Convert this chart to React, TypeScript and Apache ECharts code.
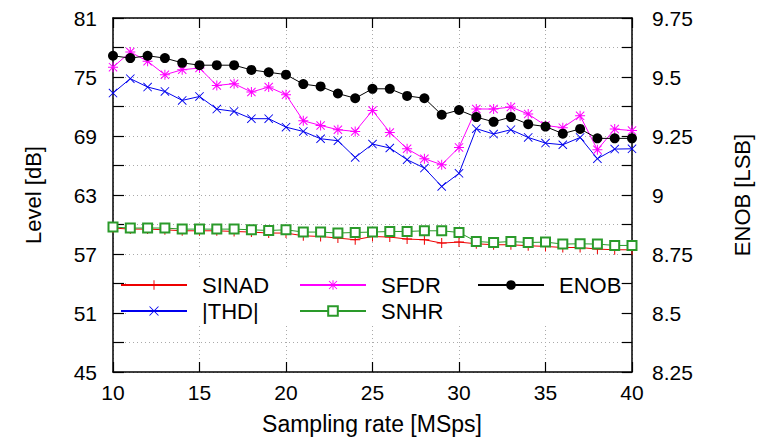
import React, { useEffect, useRef } from "react";
import * as echarts from "echarts";

const samplingRates = [10, 11, 12, 13, 14, 15, 16, 17, 18, 19, 20, 21, 22, 23, 24, 25, 26, 27, 28, 29, 30, 31, 32, 33, 34, 35, 36, 37, 38, 39, 40];

const sinad = [59.64, 59.53, 59.53, 59.46, 59.36, 59.36, 59.36, 59.29, 59.23, 59.13, 59.13, 58.85, 58.78, 58.62, 58.45, 58.78, 58.72, 58.52, 58.45, 58.11, 58.21, 58.04, 57.94, 57.94, 57.84, 57.77, 57.66, 57.66, 57.5, 57.43, 57.43];
const thd = [73.37, 74.83, 73.98, 73.53, 72.62, 73.02, 71.74, 71.5, 70.76, 70.76, 69.9, 69.46, 68.72, 68.52, 66.82, 68.18, 67.78, 66.59, 65.74, 63.87, 65.2, 69.75, 69.2, 69.64, 68.85, 68.28, 68.11, 68.85, 66.69, 67.67, 67.7];
const sfdr = [76.0, 77.54, 76.6, 75.23, 75.74, 75.91, 74.14, 74.32, 73.47, 73.98, 73.2, 70.55, 70.07, 69.64, 69.46, 71.6, 69.36, 67.7, 66.69, 66.08, 67.84, 71.75, 71.74, 71.95, 71.23, 70.07, 69.85, 71.05, 67.6, 69.7, 69.55];
const snhr = [59.74, 59.64, 59.64, 59.64, 59.53, 59.53, 59.53, 59.53, 59.46, 59.39, 59.46, 59.23, 59.23, 59.13, 59.19, 59.23, 59.29, 59.29, 59.36, 59.36, 59.19, 58.27, 58.17, 58.27, 58.17, 58.21, 58.01, 58.04, 58.01, 57.87, 57.87];
const enob = [9.59, 9.58, 9.59, 9.58, 9.56, 9.55, 9.55, 9.55, 9.53, 9.52, 9.51, 9.47, 9.46, 9.43, 9.41, 9.45, 9.45, 9.42, 9.41, 9.34, 9.36, 9.33, 9.31, 9.33, 9.3, 9.29, 9.26, 9.28, 9.24, 9.24, 9.24];

const leftMin = 45;
const leftMax = 81;
const rightMin = 8.25;
const rightMax = 9.75;

const FONT = "Liberation Sans";

const PLUS = "path://M0,4.5H10V5.5H0Z M4.5,0H5.5V10H4.5Z";
const CROSS = "path://M0.7,0L10,9.3L9.3,10L0,0.7Z M9.3,0L10,0.7L0.7,10L0,9.3Z";
const STAR =
  "path://M0,4.5H10V5.5H0Z M4.5,0H5.5V10H4.5Z M1.2,0.5L9.5,8.8L8.8,9.5L0.5,1.2Z M8.8,0.5L9.5,1.2L1.2,9.5L0.5,8.8Z";

export default function App() {
  const ref = useRef<HTMLDivElement>(null);

  useEffect(() => {
    if (!ref.current) return;
    const chart = echarts.init(ref.current, null, { renderer: "svg" });

    const pairs = (arr: number[]) => samplingRates.map((x, i) => [x, arr[i]]);

    const mkSeries = (name: string, arr: number[], color: string, symbol: string, size: number, yIdx = 0, extra: any = {}) => ({
      name,
      type: "line",
      xAxisIndex: 0,
      yAxisIndex: yIdx,
      data: pairs(arr),
      symbol,
      symbolSize: size,
      showSymbol: true,
      lineStyle: { color, width: 1 },
      itemStyle: { color, ...(extra.itemStyle || {}) },
      z: extra.z || 2,
    });

    const legendBase = {
      orient: "horizontal",
      padding: 0,
      itemWidth: 66,
      itemHeight: 12,
      selectedMode: false,
      textStyle: { fontFamily: FONT, fontSize: 22, color: "#000", padding: [0, 0, 0, 10] },
    };

    const option: any = {
      animation: false,
      textStyle: { fontFamily: FONT },
      grid: { left: 113, right: 136, top: 18, bottom: 69, containLabel: false },
      xAxis: [
        {
          type: "value",
          min: 10,
          max: 40,
          interval: 5,
          position: "bottom",
          axisLine: { show: true, lineStyle: { color: "#000", width: 1.5 } },
          axisTick: { show: true, inside: true, length: 10, lineStyle: { color: "#000", width: 1.2 } },
          axisLabel: { fontFamily: FONT, fontSize: 21, color: "#000", margin: 10 },
          splitLine: { show: true, lineStyle: { color: "#aaa", type: [1, 3], width: 1 } },
        },
        {
          type: "value",
          min: 10,
          max: 40,
          interval: 5,
          position: "top",
          axisLine: { show: true, lineStyle: { color: "#000", width: 1.5 } },
          axisTick: { show: true, inside: true, length: 10, lineStyle: { color: "#000", width: 1.2 } },
          axisLabel: { show: false },
          splitLine: { show: false },
        },
      ],
      yAxis: [
        {
          type: "value",
          min: leftMin,
          max: leftMax,
          interval: 3,
          position: "left",
          axisLine: { show: true, lineStyle: { color: "#000", width: 1.5 } },
          axisTick: { show: true, inside: true, length: 11, lineStyle: { color: "#000", width: 1.2 } },
          axisLabel: {
            fontFamily: FONT,
            fontSize: 21,
            color: "#000",
            margin: 16,
            formatter: (v: number) => (Math.round(v - leftMin) % 6 === 0 ? String(v) : ""),
          },
          splitLine: { show: true, lineStyle: { color: "#aaa", type: [1, 3], width: 1 } },
        },
        {
          type: "value",
          min: rightMin,
          max: rightMax,
          interval: 0.125,
          position: "right",
          axisLine: { show: true, lineStyle: { color: "#000", width: 1.5 } },
          axisTick: { show: true, inside: true, length: 10, lineStyle: { color: "#000", width: 1.2 } },
          axisLabel: {
            fontFamily: FONT,
            fontSize: 21,
            color: "#000",
            margin: 20,
            formatter: (v: number) => {
              const k = (v - rightMin) / 0.25;
              return Math.abs(k - Math.round(k)) < 1e-6 ? String(Math.round(v * 100) / 100) : "";
            },
          },
          splitLine: { show: false },
        },
      ],
      legend: [
        { ...legendBase, data: ["SINAD"], left: 120, top: 274 },
        { ...legendBase, data: ["|THD|"], left: 120, top: 300 },
        { ...legendBase, data: ["SFDR"], left: 299, top: 274 },
        { ...legendBase, data: ["SNHR"], left: 299, top: 300 },
        { ...legendBase, data: ["ENOB"], left: 477, top: 274 },
      ],
      graphic: [
        {
          type: "rect",
          z: 1,
          shape: { x: 126, y: 268, width: 494, height: 58 },
          style: { fill: "#fff" },
          silent: true,
        },
        {
          type: "text",
          x: 33,
          y: 195,
          rotation: Math.PI / 2,
          style: { text: "Level [dB]", fontFamily: FONT, fontSize: 22, fill: "#000", textAlign: "center", textVerticalAlign: "middle" },
        },
        {
          type: "text",
          x: 742,
          y: 195,
          rotation: Math.PI / 2,
          style: { text: "ENOB [LSB]", fontFamily: FONT, fontSize: 22, fill: "#000", textAlign: "center", textVerticalAlign: "middle" },
        },
        {
          type: "text",
          x: 372,
          y: 424,
          style: { text: "Sampling rate [MSps]", fontFamily: FONT, fontSize: 23, fill: "#000", textAlign: "center", textVerticalAlign: "middle" },
        },
      ],
      series: [
        mkSeries("SINAD", sinad, "#ee0000", PLUS, 10),
        mkSeries("|THD|", thd, "#0000ee", CROSS, 9),
        mkSeries("SFDR", sfdr, "#ff00ff", STAR, 10),
        {
          ...mkSeries("SNHR", snhr, "#2a9a2a", "emptyRect", 9),
          itemStyle: { color: "#2a9a2a", borderColor: "#2a9a2a", borderWidth: 1 },
        },
        mkSeries("ENOB", enob, "#000000", "circle", 10, 1, { z: 3 }),
      ],
    };

    chart.setOption(option);
    return () => chart.dispose();
  }, []);

  return <div ref={ref} style={{ position: "absolute", left: 0, top: 0, width: 768, height: 441 }} />;
}
